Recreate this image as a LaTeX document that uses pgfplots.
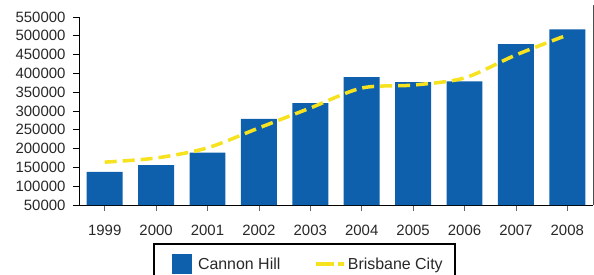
\documentclass[border=0pt]{standalone}
\usepackage{pgfplots}
\pgfplotsset{compat=1.18}
\usepackage{fontspec}
\setmainfont{Liberation Sans}
\definecolor{barblue}{RGB}{14,96,172}
\definecolor{lineyellow}{RGB}{246,226,30}
\definecolor{txt}{RGB}{40,40,40}
\begin{document}
\begin{tikzpicture}
\begin{axis}[
  scale only axis,
  width=514bp, height=188bp,
  xmin=-0.5, xmax=9.5,
  ymin=50000, ymax=550000,
  ytick={50000,100000,...,550000},
  xtick={0,...,9},
  xticklabels={1999,2000,2001,2002,2003,2004,2005,2006,2007,2008},
  scaled y ticks=false,
  /pgf/number format/assume math mode=true,
  /pgf/number format/fixed,
  /pgf/number format/precision=0,
  /pgf/number format/1000 sep={},
  axis x line=bottom, axis y line=left,
  axis line style={-, black, line width=1bp},
  tick align=outside,
  major tick length=6bp,
  tick style={black, line width=0.8bp},
  x tick style={black!60},
  tick label style={font=\fontsize{15}{16}\selectfont, text=txt},
  yticklabel style={xshift=-4bp},
  xticklabel style={yshift=-11bp},
  ybar, bar width=0.7,
  legend style={at={(0.144,-0.202)}, anchor=north west, draw=black, line width=2bp,
    legend columns=2, font=\fontsize{16}{18}\selectfont, text=txt,
    inner xsep=10bp, inner ysep=10bp,
    /tikz/every even column/.append style={column sep=32bp}},
  legend cell align=left,
]
\addplot[fill=barblue, draw=none,
  legend image code/.code={\path (-8bp,0bp); \fill[barblue] (0bp,-10bp) rectangle (20bp,10bp); \path (24bp,0bp);}]
  coordinates {(0,138000) (1,156000) (2,189000) (3,279000) (4,321000)
               (5,390000) (6,377000) (7,379000) (8,478000) (9,517000)};
\addlegendentry{Cannon Hill}
\addplot[sharp plot, smooth, color=lineyellow, line width=3.5bp, dash pattern=on 12bp off 6bp,
  legend image code/.code={\draw[lineyellow, line width=3.5bp, dash pattern=on 18bp off 4bp] (0bp,0bp) -- (28bp,0bp);}]
  coordinates {(0,164000) (1,175000) (2,202000) (3,255000) (4,308000)
               (5,361000) (6,369000) (7,388000) (8,449000) (9,502000)};
\addlegendentry{Brisbane City}
\coordinate (o) at (rel axis cs:0,0);
\coordinate (br) at (rel axis cs:1,0);
\end{axis}
\draw[black!70, line width=0.8bp] (br) -- ++(0,200bp);
\pgfresetboundingbox
\path[use as bounding box] (o) ++(-79bp,-70bp) rectangle ++(594bp,275bp);
\end{tikzpicture}
\end{document}
